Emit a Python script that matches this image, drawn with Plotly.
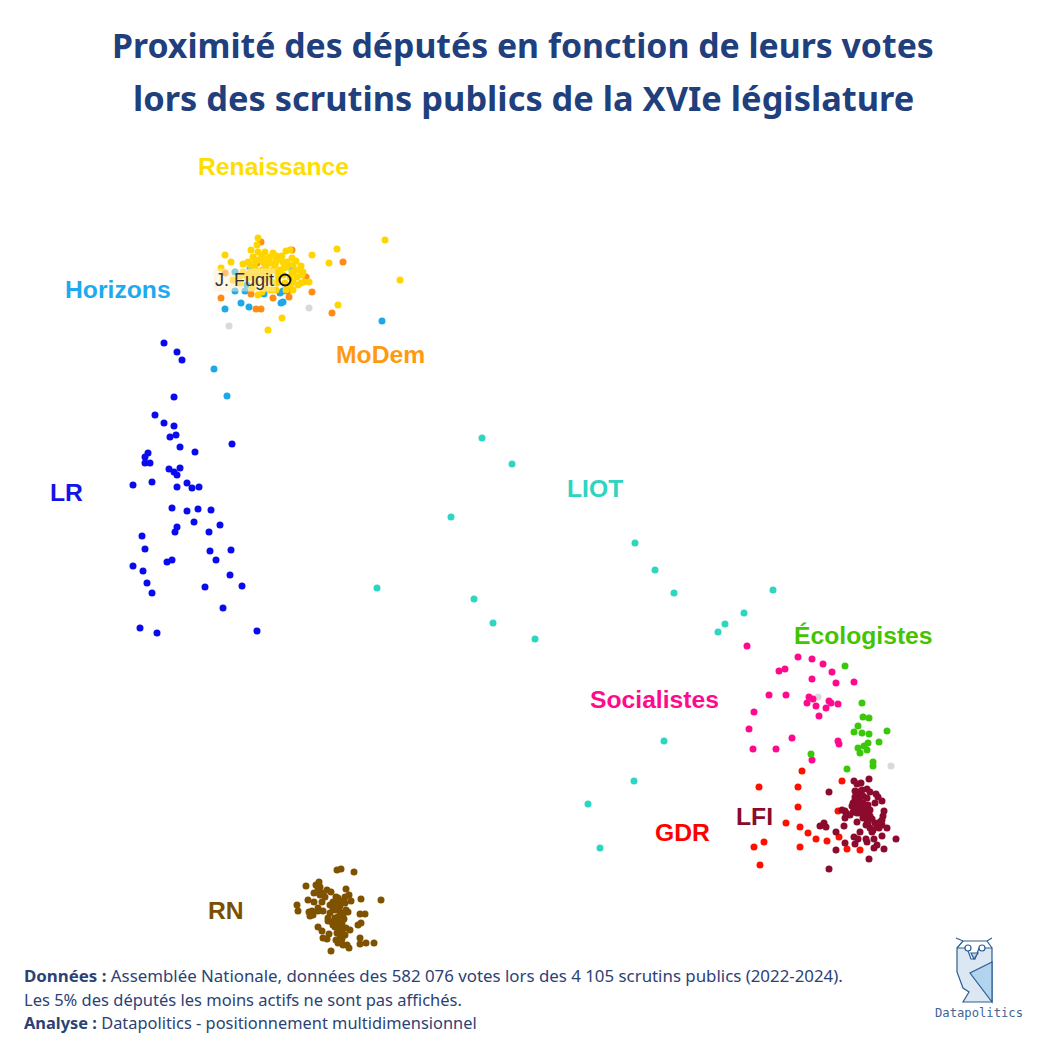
import plotly.graph_objects as go

# positions on the map (no unit, multidimensional scaling output)
lr_x = [164, 177, 182, 174, 155, 164, 174, 176, 170, 180, 195, 232, 148, 145, 145, 150, 169, 180, 174, 177, 152, 133, 177, 187, 192, 199, 172, 187, 198, 211, 194, 220, 177, 175, 209, 142, 145, 210, 231, 172, 167, 216, 133, 143, 230, 147, 205, 242, 152, 223, 140, 157, 257]
lr_y = [343, 352, 360, 397, 415, 423, 426, 435, 437, 447, 452, 444, 453, 457, 463, 463, 469, 468, 472, 475, 482, 485, 487, 483, 488, 487, 508, 511, 509, 510, 522, 525, 527, 532, 532, 536, 549, 551, 550, 560, 562, 560, 566, 571, 575, 583, 587, 586, 593, 608, 628, 633, 631]

horizons_x = [214, 227, 382, 225, 241, 249, 281, 283, 280, 283, 287, 235, 245, 264, 235, 292, 250, 247]
horizons_y = [369, 396, 321, 309, 303, 307, 303, 302, 293, 291, 291, 291, 291, 294, 272, 270, 268, 285]

renaissance_x = [385, 400, 337, 329, 312, 225, 231, 221, 258, 257, 251, 286, 338, 282, 268, 309, 258, 265, 262, 273, 277, 253, 268, 243, 248, 258, 264, 270, 276, 283, 296, 301, 293, 287, 297, 302, 298, 290, 280, 273, 262, 255, 283, 233, 240, 293, 258, 252, 265, 277, 257, 268, 246, 272, 292, 304,
                 250, 255, 262, 270, 275, 280, 266, 258, 250, 287, 284, 293, 297, 290, 285, 278, 272, 264, 256, 248, 243, 240, 292, 303, 301, 277, 268, 262, 253, 286, 276, 270, 262, 282, 293, 290]
renaissance_y = [240, 280, 249, 263, 255, 255, 262, 268, 238, 245, 250, 251, 305, 318, 330, 282, 252, 252, 256, 253, 256, 257, 259, 264, 262, 260, 263, 263, 262, 262, 261, 266, 265, 267, 270, 275, 285, 277, 270, 270, 270, 268, 275, 280, 283, 282, 295, 288, 288, 283, 275, 273, 275, 290, 272, 282,
                 265, 262, 258, 257, 265, 258, 268, 272, 272, 262, 268, 272, 277, 285, 283, 277, 282, 280, 282, 278, 272, 276, 258, 272, 283, 272, 277, 275, 276, 290, 290, 290, 292, 256, 290, 250]

modem_x = [261, 292, 343, 306, 312, 221, 273, 289, 290, 251, 256, 261, 332, 257, 277, 225]
modem_y = [242, 250, 262, 277, 292, 298, 298, 297, 290, 294, 309, 309, 313, 263, 259, 273]

liot_x = [482, 512, 451, 635, 655, 674, 773, 744, 725, 718, 377, 474, 493, 535, 664, 634, 588, 600]
liot_y = [438, 464, 517, 543, 570, 593, 590, 613, 624, 632, 588, 599, 623, 639, 741, 781, 804, 848]

socialistes_x = [747, 798, 812, 823, 785, 779, 832, 812, 836, 854, 769, 786, 809, 813, 807, 816, 829, 831, 838, 826, 819, 754, 749, 792, 838, 839, 753, 776, 812]
socialistes_y = [646, 657, 659, 664, 669, 671, 672, 679, 683, 682, 695, 695, 697, 699, 703, 706, 701, 703, 704, 708, 716, 712, 729, 738, 741, 744, 749, 749, 760]

ecologistes_x = [845, 862, 863, 869, 858, 854, 862, 869, 887, 879, 868, 864, 858, 867, 860, 811, 873, 873, 847]
ecologistes_y = [666, 703, 717, 718, 726, 732, 733, 734, 731, 742, 743, 746, 748, 750, 753, 754, 762, 766, 769]

gdr_x = [802, 759, 798, 842, 798, 838, 786, 800, 808, 816, 827, 839, 764, 754, 800, 847, 860, 760]
gdr_y = [771, 787, 787, 781, 807, 811, 823, 827, 833, 839, 841, 837, 842, 847, 847, 849, 850, 865]

lfi_x = [869, 854, 857, 861, 829, 867, 855, 876, 878, 882, 859, 863, 867, 855, 853, 858, 863, 868, 875, 842, 845, 853, 857, 862, 867, 870, 860, 884, 883, 845, 867, 857, 875, 868, 882, 820, 824, 826, 844, 870, 879, 887, 882, 836, 860, 854, 882, 858, 866, 867, 874, 896, 845, 855, 877, 874, 884, 836, 869, 829,
         852, 857, 860, 864, 864, 868, 850, 872, 877, 863, 866, 870, 846, 880, 872, 862, 858, 870, 873, 855]
lfi_y = [779, 781, 784, 783, 792, 789, 791, 794, 797, 801, 797, 796, 798, 800, 803, 803, 803, 805, 803, 810, 811, 812, 813, 808, 808, 810, 813, 811, 816, 818, 820, 822, 823, 823, 820, 826, 823, 827, 826, 828, 828, 828, 825, 832, 832, 837, 836, 839, 839, 842, 839, 839, 843, 844, 845, 848, 849, 850, 859, 869,
         806, 807, 800, 806, 812, 815, 815, 819, 825, 818, 825, 816, 813, 822, 832, 790, 792, 792, 830, 797]

rn_x = [337, 341, 354, 306, 319, 316, 318, 314, 318, 346, 327, 331, 325, 322, 308, 314, 338, 333, 342, 335, 349, 351, 345, 361, 381, 297, 298, 309, 310, 313, 318, 323, 330, 335, 348, 343, 338, 360, 365, 328, 332, 335, 342, 361, 358, 318, 322, 343, 350, 329, 342, 340, 323, 327, 338, 343, 349, 360, 360, 366, 374, 331,
        320, 323, 338, 336, 340, 333, 345, 330, 346, 340, 335, 328, 333, 338, 344, 346, 340, 342, 336, 345, 318, 312, 320, 347, 341, 337]
rn_y = [870, 869, 872, 886, 882, 885, 888, 893, 892, 889, 890, 892, 897, 902, 900, 902, 898, 902, 901, 905, 895, 901, 903, 899, 900, 905, 911, 912, 916, 915, 908, 911, 913, 910, 912, 915, 917, 914, 914, 921, 922, 927, 923, 923, 925, 927, 931, 928, 930, 934, 933, 938, 938, 939, 943, 945, 948, 938, 944, 943, 943, 951,
        895, 893, 903, 897, 906, 908, 897, 905, 910, 912, 918, 918, 925, 922, 919, 928, 928, 939, 940, 935, 911, 911, 887, 945, 942, 933]

sans_groupe_x = [229, 309, 818, 891]
sans_groupe_y = [326, 308, 697, 766]

fugit_x = [285]
fugit_y = [280]

groupes = [
    ("Sans groupe", sans_groupe_x, sans_groupe_y, "#d9d9d9"),
    ("Horizons", horizons_x, horizons_y, "#1fa8e8"),
    ("MoDem", modem_x, modem_y, "#ff8c14"),
    ("Renaissance", renaissance_x, renaissance_y, "#ffd500"),
    ("LR", lr_x, lr_y, "#0a0aee"),
    ("LIOT", liot_x, liot_y, "#2dd6c0"),
    ("Socialistes", socialistes_x, socialistes_y, "#ff0a8c"),
    ("Écologistes", ecologistes_x, ecologistes_y, "#3cc80a"),
    ("GDR", gdr_x, gdr_y, "#ff0f00"),
    ("LFI", lfi_x, lfi_y, "#8b0a2d"),
    ("RN", rn_x, rn_y, "#7f5200"),
]

etiquettes = [
    ("Renaissance", 273, 166, "#ffdd00"),
    ("Horizons", 118, 289, "#1fa9ee"),
    ("MoDem", 380, 354, "#ff9a10"),
    ("LR", 66, 492, "#1414e6"),
    ("LIOT", 595, 488, "#2dd4bf"),
    ("Écologistes", 863, 635, "#44c400"),
    ("Socialistes", 654, 699, "#ff0a8c"),
    ("GDR", 682, 832, "#ff0000"),
    ("LFI", 754, 816, "#8b0a2d"),
    ("RN", 226, 910, "#7a5000"),
]

BLEU = "#1f3f7d"
fig = go.Figure()

for nom, xs, ys, couleur in groupes:
    fig.add_trace(go.Scatter(x=xs, y=ys, mode="markers", name=nom, marker=dict(size=7, color=couleur)))

# depute highlighted on the map
fig.add_trace(go.Scatter(x=fugit_x, y=fugit_y, mode="markers", name="J. Fugit",
                         marker=dict(size=11, color="rgba(0,0,0,0)", line=dict(color="#111111", width=2))))

for nom, ax, ay, couleur in etiquettes:
    fig.add_annotation(x=ax, y=ay, text=f"<b>{nom}</b>", showarrow=False,
                       font=dict(family="Liberation Sans", size=24.7, color=couleur))
fig.add_annotation(x=244, y=280, text="J. Fugit", showarrow=False, bgcolor="rgba(255,240,205,0.5)",
                   font=dict(family="Liberation Sans", size=18, color="#333333"))

# title, two lines placed separately for the line gap
fig.add_annotation(x=523, y=45, text="<b>Proximité des députés en fonction de leurs votes</b>", showarrow=False,
                   font=dict(family="Noto Sans", size=33.8, color=BLEU))
fig.add_annotation(x=523, y=97, text="<b>lors des scrutins publics de la XVIe législature</b>", showarrow=False,
                   font=dict(family="Noto Sans", size=34.4, color=BLEU))

pied = [
    ("<b>Données :</b> Assemblée Nationale, données des 582 076 votes lors des 4 105 scrutins publics (2022-2024).", 975, 16.85),
    ("Les 5% des députés les moins actifs ne sont pas affichés.", 999, 16.5),
    ("<b>Analyse :</b> Datapolitics - positionnement multidimensionnel", 1022, 16.4),
]
for texte, py, taille in pied:
    fig.add_annotation(x=22, y=py, text=texte, showarrow=False, xanchor="left",
                       font=dict(family="Noto Sans", size=taille, color="#2c4274"))

fig.add_annotation(x=979, y=1013, text="Datapolitics", showarrow=False,
                   font=dict(family="DejaVu Sans Mono", size=12.2, color="#3f6496"))

# owl logo
TRAIT = dict(color="#2f5c92", width=1.2)
fig.add_shape(type="path", path="M957 948 L957 972 L963 988 L969 992 L963 1002 L992 1002 L992 948 L979 948 L975 959 L971 959 L967 948 Z",
              fillcolor="#dbe8f3", line=TRAIT)
fig.add_shape(type="path", path="M992 962 L970 973 L992 1002 Z", fillcolor="#b3d4ee", line=TRAIT)
fig.add_shape(type="path", path="M956 938 L963 941 L987 941 L992 938 M963 941 L957 948 M987 941 L992 948", line=TRAIT)
fig.add_shape(type="circle", x0=965, x1=971, y0=945, y1=951, fillcolor="white", line=TRAIT)
fig.add_shape(type="circle", x0=979, x1=985, y0=945, y1=951, fillcolor="white", line=TRAIT)
fig.add_shape(type="path", path="M971 953 L978 953 L974 959 Z", fillcolor="#b3d4ee", line=TRAIT)

fig.update_xaxes(range=[0, 1048], visible=False)
fig.update_yaxes(range=[1046, 0], visible=False)
fig.update_layout(width=1048, height=1046, autosize=False, showlegend=False,
                  margin=dict(l=0, r=0, t=0, b=0), paper_bgcolor="white", plot_bgcolor="white")
fig.write_html("out.html", config=dict(displayModeBar=False), post_script="document.body.style.margin='0';")
